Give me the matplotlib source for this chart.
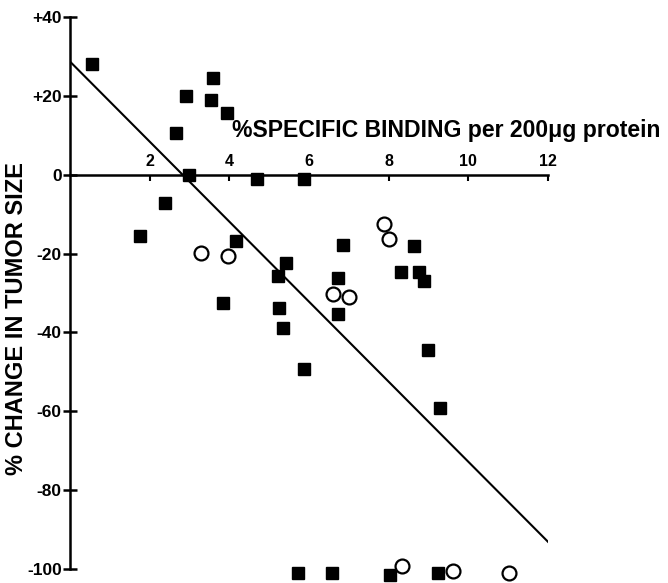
"""
Percent change in tumor size vs. percent specific binding per 200 ug protein.

Filled squares and open circles are two groups of patients; the straight
line is the regression drawn across the whole binding range.
"""

import matplotlib
matplotlib.use('Agg')
import matplotlib.pyplot as plt

# Filled squares
sq_binding = [0.55, 3.6, 2.91, 3.54, 3.94, 2.66, 2.98, 4.69, 5.88, 2.38, 1.76,
              4.17, 5.43, 5.23, 3.85, 5.25, 5.35, 5.88, 6.86, 6.73, 6.73,
              8.32, 8.64, 8.77, 8.89, 9.0, 9.3, 5.73, 6.58, 8.04, 9.25]
sq_change = [28, 24.5, 20, 19, 15.7, 10.7, 0, -1.2, -1.2, -7.3, -15.5,
             -16.8, -22.3, -25.6, -32.5, -33.8, -38.8, -49.2, -17.8, -26.1, -35.3,
             -24.6, -18, -24.6, -26.9, -44.4, -59.1, -101, -101, -101.5, -101]

# Open circles
circ_binding = [3.29, 3.97, 6.61, 7.01, 7.89, 8.02, 8.34, 9.62, 11.03]
circ_change = [-19.8, -20.6, -30.2, -31, -12.6, -16.2, -99.3, -100.5, -101]

# Regression line
LINE_X = [0, 12]
LINE_Y = [28.7, -93.1]

X_TICKS = [2, 4, 6, 8, 10, 12]
Y_TICKS = [40, 20, 0, -20, -40, -60, -80, -100]
Y_TICK_LABELS = ['+40', '+20', '0', '-20', '-40', '-60', '-80', '-100']

FONT = ['Liberation Sans', 'DejaVu Sans']


def plot_binding():
    fig = plt.figure(figsize=(6.68, 5.83), dpi=100)
    ax = fig.add_axes([70 / 668, 14 / 583, 478 / 668, 552 / 583])

    ax.plot(LINE_X, LINE_Y, color='black', lw=1.5, zorder=2)
    ax.plot(sq_binding, sq_change, 's', color='black', ms=8, clip_on=False, zorder=3)
    ax.plot(circ_binding, circ_change, 'o', mfc='white', mec='black', ms=10,
            mew=1.6, clip_on=False, zorder=3)

    ax.set_xlim(0, 12)
    ax.set_ylim(-100, 40)

    # x axis runs along y=0, labels above it, ticks hanging below
    ax.spines['bottom'].set_visible(False)
    ax.spines['right'].set_visible(False)
    ax.spines['top'].set_position(('data', 0))
    ax.spines['top'].set_linewidth(1.8)
    ax.spines['left'].set_linewidth(1.8)
    ax.xaxis.set_ticks_position('top')
    ax.set_xticks(X_TICKS)
    ax.set_xticklabels([str(t) for t in X_TICKS])
    ax.tick_params(axis='x', direction='in', length=4, width=1.5, pad=4)

    ax.set_yticks(Y_TICKS)
    ax.set_yticklabels(Y_TICK_LABELS)
    ax.tick_params(axis='y', direction='inout', length=10, width=1.8, pad=1)

    for lab in ax.get_xticklabels():
        lab.set_family(FONT)
        lab.set_fontweight('bold')
        lab.set_fontsize(11.5)
    for lab in ax.get_yticklabels():
        lab.set_family(FONT)
        lab.set_fontweight('bold')
        lab.set_fontsize(12.5)

    fig.text(232 / 668, 1 - 131 / 583, '%SPECIFIC BINDING per 200\u03bcg protein',
             ha='left', va='center', fontsize=16.6, fontweight='bold', family=FONT)
    fig.text(17 / 668, 1 - 319 / 583, '% CHANGE IN TUMOR SIZE', rotation=90,
             ha='center', va='center', fontsize=17, fontweight='bold', family=FONT)

    fig.savefig('out.png', dpi=100)


if __name__ == '__main__':
    plot_binding()
